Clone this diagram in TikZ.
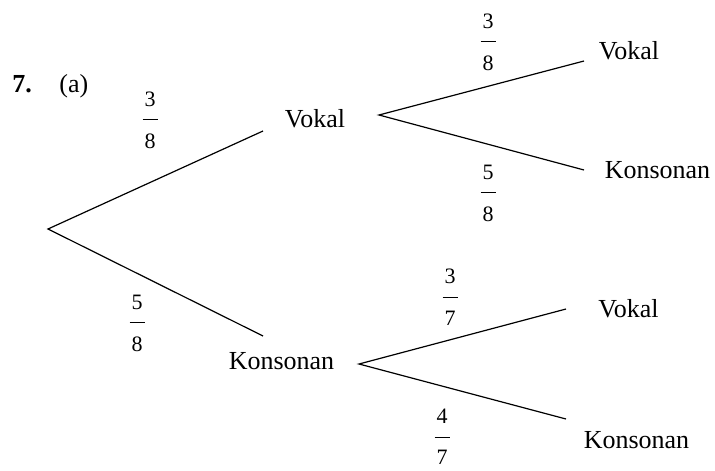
\documentclass[tikz,border=0pt]{standalone}
\usepackage{fontspec}
\setmainfont{Liberation Serif}
\usetikzlibrary{positioning}

% pecahan: pembilang, garis, penyebut
\newcommand{\pch}[2]{\vbox{\offinterlineskip\halign{\hfil##\hfil\cr #1\cr\noalign{\kern6.5pt}\rule{7.5pt}{0.5pt}\cr\noalign{\kern6.5pt}#2\cr}}}

\tikzset{
  cabang/.style={line width=0.6pt},
  teks/.style={font=\fontsize{13}{15}\selectfont, inner sep=0pt, anchor=base},
  pecahan/.style={font=\fontsize{11}{13}\selectfont, inner sep=0pt}
}

\begin{document}
\begin{tikzpicture}[x=0.5pt,y=-0.5pt]
\useasboundingbox (0,0) rectangle (715,470);

\node[teks, anchor=base west, font=\fontsize{13}{15}\selectfont\bfseries] (no) at (12,93) {7.};
\node[teks, anchor=base west] (bag) at (59,93) {(a)};

\node[teks] (v) at (315,127) {Vokal};
\node[teks] (k) at (281.5,369) {Konsonan};
\node[teks] (vv) at (629,60) {Vokal};
\node[teks] (vk) at (657.5,178) {Konsonan};
\node[teks] (kv) at (628.5,317) {Vokal};
\node[teks] (kk) at (636.5,448) {Konsonan};

\coordinate (akar) at (48,229);
\coordinate (v-in) at (263,131);
\coordinate (k-in) at (263,336);
\coordinate (v-out) at (379,115);
\coordinate (k-out) at (359,364);
\coordinate (vv-in) at (584,61);
\coordinate (vk-in) at (584,170);
\coordinate (kv-in) at (566,309);
\coordinate (kk-in) at (566,419);

\draw[cabang] (v-in) -- (akar) -- (k-in);
\draw[cabang] (vv-in) -- (v-out) -- (vk-in);
\draw[cabang] (kv-in) -- (k-out) -- (kk-in);

\node[pecahan] (p1) at (150,120) {\pch{3}{8}};
\node[pecahan] (p2) at (137,323) {\pch{5}{8}};
\node[pecahan] (p3) at (488,42) {\pch{3}{8}};
\node[pecahan] (p4) at (488,193) {\pch{5}{8}};
\node[pecahan] (p5) at (450,297) {\pch{3}{7}};
\node[pecahan] (p6) at (442,437) {\pch{4}{7}};
\end{tikzpicture}
\end{document}
